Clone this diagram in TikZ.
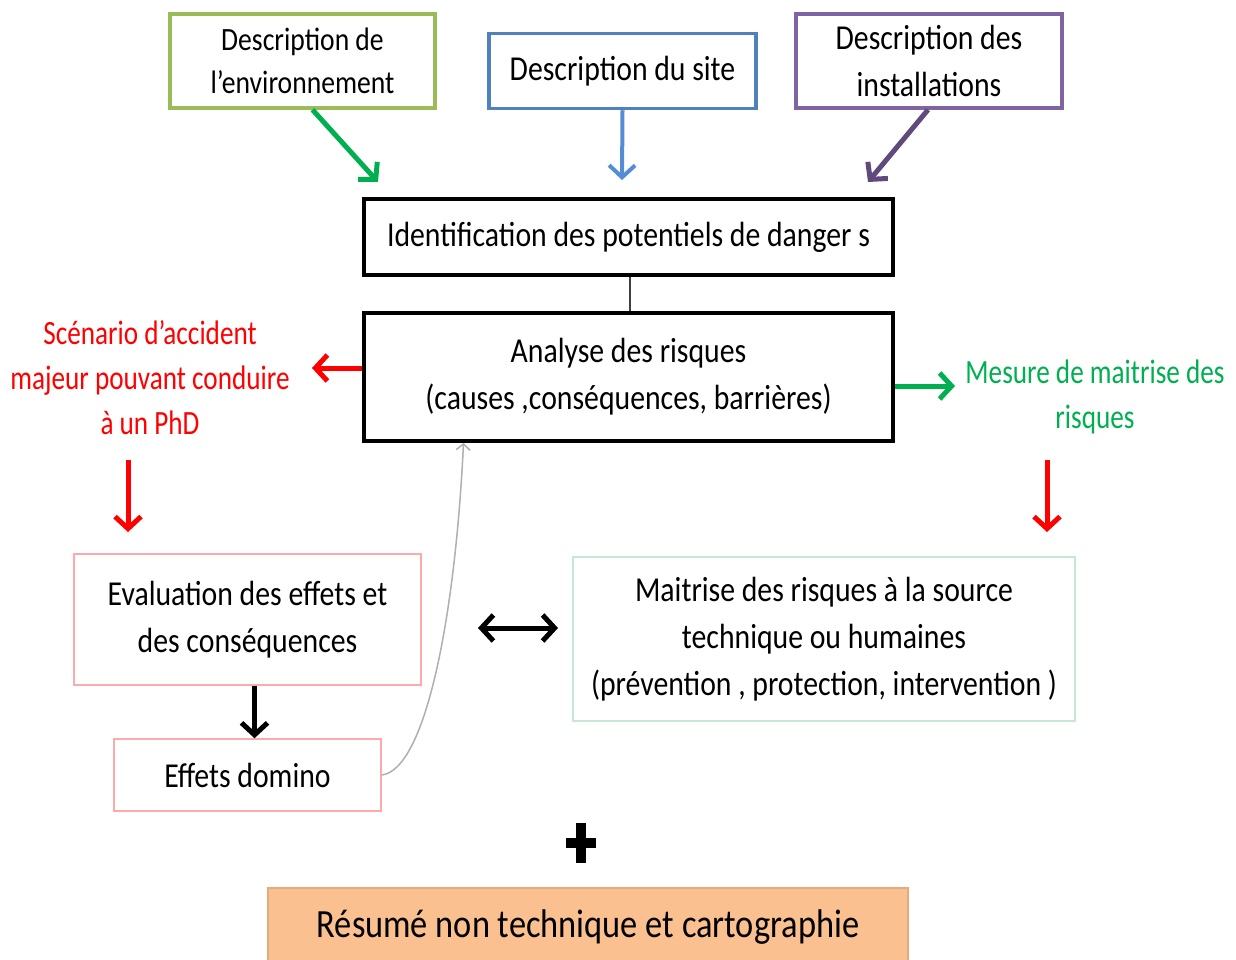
\documentclass[tikz,border=0pt]{standalone}
\usepackage{fontspec}
\setmainfont{Carlito}[FakeStretch=0.8]
\newfontfamily\boxfont{Carlito}[FakeStretch=0.85]
\newfontfamily\resumefont{Carlito}[FakeStretch=0.86]
\usetikzlibrary{arrows.meta,shadows}

\definecolor{envgreen}{RGB}{155,187,89}
\definecolor{siteblue}{RGB}{79,129,189}
\definecolor{instpurple}{RGB}{128,100,162}
\definecolor{arrgreen}{RGB}{0,176,80}
\definecolor{arrblue}{RGB}{84,141,212}
\definecolor{arrpurple}{RGB}{96,74,123}
\definecolor{pinkline}{RGB}{255,170,170}
\definecolor{mintline}{RGB}{200,230,212}
\definecolor{orangefill}{RGB}{250,192,143}
\definecolor{orangeline}{RGB}{228,172,124}
\definecolor{curvegray}{RGB}{175,175,175}

\begin{document}
\begin{tikzpicture}[x=1pt,y=-1pt,
  txt/.style={font=\fontsize{34}{45}\selectfont, align=center, inner sep=0pt},
  box/.style={font=\boxfont\fontsize{35}{47}\selectfont, align=center, inner sep=0pt,
              draw, rectangle, fill=white},
  softshadow/.style={drop shadow={opacity=0.25, shadow xshift=2pt, shadow yshift=-2pt}},
  barb/.tip={Straight Barb[length=12pt,width=26pt]},
  arr/.style={line width=5pt, -barb},
]
\useasboundingbox (0,0) rectangle (1236,960);

% top description boxes
\node[box, softshadow, draw=envgreen, line width=3.5pt, minimum width=265pt, minimum height=94pt,
      font=\boxfont\fontsize{32.5}{43}\selectfont]
  (env) at (302.5,61) {Description de\\l’environnement};
\node[box, softshadow, draw=siteblue, line width=3.5pt, minimum width=267pt, minimum height=75pt]
  (site) at (622.5,71) {Description du site};
\node[box, softshadow, draw=instpurple, line width=3.5pt, minimum width=266pt, minimum height=94pt]
  (inst) at (929,61) {Description des\\installations};

% central boxes
\node[box, softshadow, line width=4pt, minimum width=529pt, minimum height=76pt]
  (ident) at (628.5,237) {Identification des potentiels de danger s};
\node[box, softshadow, line width=4pt, minimum width=529pt, minimum height=128pt, text depth=6pt]
  (analyse) at (628.5,377) {Analyse des risques\\(causes ,conséquences, barrières)};

% side labels
\node[txt, text=red] (scen) at (150,378) {Scénario d’accident\\majeur pouvant conduire\\à un PhD};
\node[txt, text=arrgreen] (mesure) at (1095,397) {Mesure de maitrise des\\risques};

% lower boxes
\node[box, draw=pinkline, line width=1.5pt, minimum width=347pt, minimum height=131pt]
  (eval) at (247.5,619.5) {Evaluation des effets et\\des conséquences};
\node[box, draw=pinkline, line width=1.5pt, minimum width=267pt, minimum height=72pt]
  (domino) at (247.5,775) {Effets domino};
\node[box, draw=mintline, line width=1.5pt, minimum width=502pt, minimum height=164pt]
  (maitrise) at (824,639) {Maitrise des risques à la source\\technique ou humaines\\(prévention , protection, intervention )};
\node[box, draw=orangeline, fill=orangefill, line width=1.5pt, minimum width=640pt, minimum height=78pt,
      font=\resumefont\fontsize{40}{48}\selectfont]
  (resume) at (588,927) {Résumé non technique et cartographie};

% free arrow ends
\coordinate (envend) at (378,182);
\coordinate (siteend) at (622,180);
\coordinate (instend) at (868,182);
\coordinate (scenend) at (312,368);
\coordinate (mesend) at (955,386);
\coordinate (ltop) at (128,460);
\coordinate (lbot) at (128,532);
\coordinate (rtop) at (1047,460);
\coordinate (rbot) at (1047,532);
\coordinate (dleft) at (478,628);
\coordinate (dright) at (558,628);

% arrows from the description boxes
\draw[arr, arrgreen] ([xshift=10pt]env.south) -- (envend);
\draw[arr, arrblue, line width=4pt] (site.south) -- (siteend);
\draw[arr, arrpurple] ([xshift=-1pt]inst.south) -- (instend);

% link between identification and analysis
\draw[line width=2pt, black!75] ([xshift=1.5pt]ident.south) -- ([xshift=1.5pt]analyse.north);

% outputs of the analysis
\draw[arr, red] ([yshift=9pt]analyse.west) -- (scenend);
\draw[arr, arrgreen] ([yshift=-9pt]analyse.east) -- (mesend);
\draw[arr, red] (ltop) -- (lbot);
\draw[arr, red] (rtop) -- (rbot);

% evaluation to domino effects
\draw[arr, black] ([xshift=7pt]eval.south) -- ([xshift=7pt]domino.north);

% two-way link between evaluation and control
\draw[line width=5pt, barb-barb] (dleft) -- (dright);

% feedback from domino effects to the analysis
\draw[curvegray, line width=1.5pt, -{Straight Barb[length=6pt,width=14pt]}]
  (domino.east) .. controls (425,770) and (455,620) .. ([xshift=-165pt]analyse.south);

% plus sign
\coordinate (plus) at (581,843);
\draw[line width=10pt, black] ([yshift=20pt]plus) -- ([yshift=-20pt]plus);
\draw[line width=10pt, black] ([xshift=-15pt]plus) -- ([xshift=15pt]plus);
\end{tikzpicture}
\end{document}
